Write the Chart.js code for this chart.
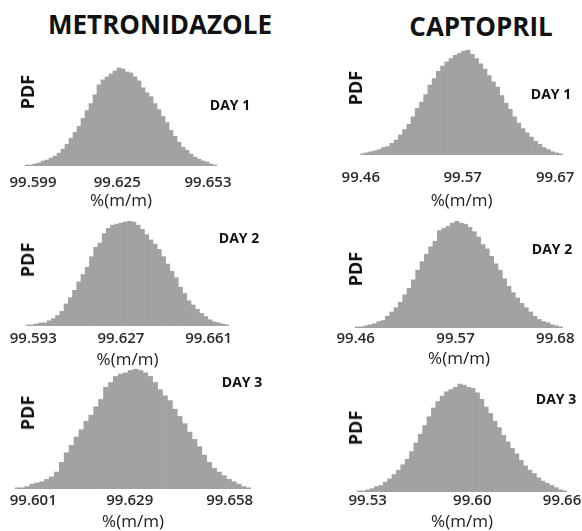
<!DOCTYPE html>
<html>
<head>
<meta charset="utf-8">
<script src="https://cdn.jsdelivr.net/npm/chart.js@4.4.0/dist/chart.umd.min.js"></script>
<style>
  body { margin: 0; background: #fff; }
  #wrap { position: relative; width: 582px; height: 531px; overflow: hidden; font-family: "Open Sans", sans-serif; color: #111; }
  .lbl { position: absolute; transform: translate(-50%, -50%); white-space: nowrap; font-weight: 700; line-height: 1; }
  .pdf { transform: translate(-50%, -50%) rotate(-90deg); font-size: 18px; }
  .day { font-size: 14px; }
  .head { font-size: 26px; }
  canvas { position: absolute; }
</style>
</head>
<body>
<div id="wrap"></div>
<script>
const drugs = ['METRONIDAZOLE', 'CAPTOPRIL'];
const days = ['DAY 1', 'DAY 2', 'DAY 3'];

// relative bin heights (48 bins each)
const metDay1 = [1,1,2,3,5,6,8,10,13,17,22,28,34,40,48,56,63,72,82,87,90,93,96,99,98,95,94,90,86,79,74,70,63,57,50,44,36,30,24,19,16,12,9,7,5,4,2,1];
const metDay2 = [1,1,2,3,3,5,7,10,14,21,27,34,42,49,56,66,75,79,88,93,96,97,98,99,100,99,96,92,87,82,78,73,66,59,52,46,37,31,24,20,16,12,9,6,4,3,2,1];
const metDay3 = [1,1,2,4,5,6,8,10,14,22,30,36,43,49,56,61,68,74,84,88,93,95,96,98,99,98,96,93,88,82,77,73,66,60,54,47,41,35,28,22,17,14,11,8,6,4,2,1];
const capDay1 = [1,2,3,4,5,7,8,11,14,19,24,29,36,44,50,57,66,72,79,84,88,91,94,96,98,99,95,91,86,81,75,69,64,56,49,43,36,30,25,21,17,13,10,7,5,3,2,1];
const capDay2 = [1,1,2,3,4,6,7,11,15,19,24,31,37,45,54,62,69,76,81,91,93,95,98,100,98,97,94,90,85,78,74,67,60,54,46,39,33,28,23,19,15,11,8,6,5,3,2,1];
const capDay3 = [1,1,2,3,5,6,9,12,16,20,25,30,37,45,53,61,69,77,83,88,92,94,96,99,98,96,95,91,85,78,72,65,59,52,46,40,35,29,24,20,17,13,10,8,6,4,2,1];

// histogram range (min, max of %(m/m)) per day
const metRanges = [[99.59653, 99.65578], [99.5902, 99.6689], [99.5957, 99.6642]];
const capRanges = [[99.4595, 99.6784], [99.4592, 99.6885], [99.5229, 99.6633]];

// tick labels shown under each histogram
const metTicks = [[99.599, 99.625, 99.653], [99.593, 99.627, 99.661], [99.601, 99.629, 99.658]];
const capTicks = [[99.46, 99.57, 99.67], [99.46, 99.57, 99.68], [99.53, 99.60, 99.66]];

const panels = [
  { counts: metDay1, range: metRanges[0], ticks: metTicks[0], dec: 3, day: days[0] },
  { counts: metDay2, range: metRanges[1], ticks: metTicks[1], dec: 3, day: days[1] },
  { counts: metDay3, range: metRanges[2], ticks: metTicks[2], dec: 3, day: days[2] },
  { counts: capDay1, range: capRanges[0], ticks: capTicks[0], dec: 2, day: days[0] },
  { counts: capDay2, range: capRanges[1], ticks: capTicks[1], dec: 2, day: days[1] },
  { counts: capDay3, range: capRanges[2], ticks: capTicks[2], dec: 2, day: days[2] },
];

// where each panel sits on the page (tickOff / titleOff: label centre below the base)
const layout = [
  { left: 25,  right: 217, top: 67,  base: 166, tickOff: 17, titleOff: 35, pdf: [27, 92],  dayAt: [230, 105] },
  { left: 26,  right: 229, top: 221, base: 326, tickOff: 13, titleOff: 34, pdf: [27, 260], dayAt: [239, 238] },
  { left: 15,  right: 251, top: 368, base: 489, tickOff: 12, titleOff: 33, pdf: [27, 413], dayAt: [242, 382] },
  { left: 356, right: 563, top: 49,  base: 155, tickOff: 23, titleOff: 46, pdf: [355, 88], dayAt: [551, 94] },
  { left: 355, right: 563, top: 221, base: 328, tickOff: 11, titleOff: 31, pdf: [355, 269], dayAt: [552, 249] },
  { left: 357, right: 567, top: 383, base: 492, tickOff: 9,  titleOff: 30, pdf: [355, 428], dayAt: [556, 399] },
];
const heads = [[160, 24], [481, 26]];

const wrap = document.getElementById('wrap');
const PAD = 30;
const TICK_SIZE = 15;
const TITLE_SIZE = 17;

function addLabel(text, cls, x, y) {
  let d = document.createElement('div');
  d.className = 'lbl ' + cls;
  d.textContent = text;
  d.style.left = x + 'px';
  d.style.top = y + 'px';
  wrap.appendChild(d);
}

drugs.forEach((name, i) => addLabel(name, 'head', heads[i][0], heads[i][1]));

panels.forEach((p, i) => {
  let L = layout[i];
  let lo = p.range[0], hi = p.range[1];
  let w = (hi - lo) / p.counts.length;
  let points = p.counts.map((c, k) => ({ x: lo + (k + 0.5) * w, y: c }));

  let tickPad = L.tickOff - TICK_SIZE / 2;
  let ch = Math.round(L.base + L.titleOff + TITLE_SIZE / 2 - L.top);
  let titlePad = ch - (L.base - L.top) - 2 * tickPad - TICK_SIZE - TITLE_SIZE;

  let cv = document.createElement('canvas');
  let cw = (L.right - L.left) + 2 * PAD;
  cv.width = cw; cv.height = ch;
  cv.style.width = cw + 'px'; cv.style.height = ch + 'px';
  cv.style.left = (L.left - PAD) + 'px';
  cv.style.top = L.top + 'px';
  wrap.appendChild(cv);

  new Chart(cv, {
    type: 'bar',
    data: {
      datasets: [{
        data: points,
        backgroundColor: '#a2a2a2',
        borderWidth: 0,
        barPercentage: 1,
        categoryPercentage: 1,
      }],
    },
    options: {
      responsive: false,
      animation: false,
      events: [],
      layout: { padding: { left: PAD, right: PAD, top: 0, bottom: 0 } },
      plugins: { legend: { display: false }, tooltip: { enabled: false } },
      scales: {
        x: {
          type: 'linear',
          min: lo,
          max: hi,
          offset: false,
          grid: { display: false, drawTicks: false },
          border: { display: false },
          afterBuildTicks: (ax) => { ax.ticks = p.ticks.map(v => ({ value: v })); },
          ticks: {
            autoSkip: false,
            maxRotation: 0,
            padding: tickPad,
            color: '#2a2a2a',
            font: { family: 'Open Sans', size: TICK_SIZE, weight: '600', lineHeight: 1 },
            callback: (v) => Number(v).toFixed(p.dec),
          },
          title: {
            display: true,
            text: '%(m/m)',
            color: '#222',
            font: { family: 'Open Sans', size: TITLE_SIZE, lineHeight: 1 },
            padding: { top: titlePad, bottom: 0 },
          },
        },
        y: { display: false, min: 0, max: 100 },
      },
    },
  });

  addLabel('PDF', 'pdf', L.pdf[0], L.pdf[1]);
  addLabel(p.day, 'day', L.dayAt[0], L.dayAt[1]);
});
</script>
</body>
</html>
